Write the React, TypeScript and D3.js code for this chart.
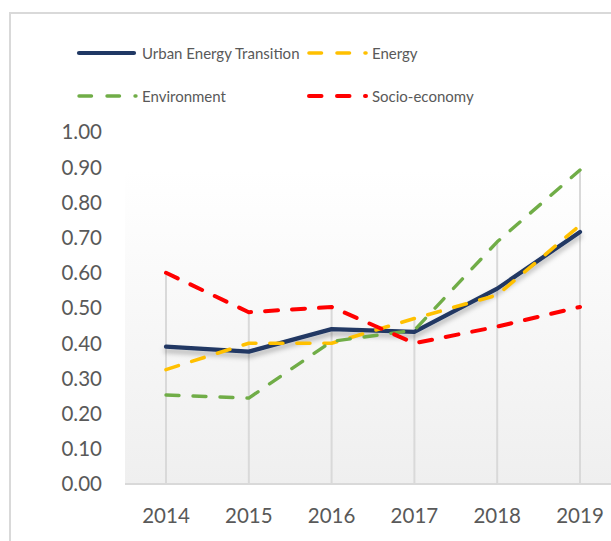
import React from "react";
import * as d3 from "d3";

const years = ["2014", "2015", "2016", "2017", "2018", "2019"];
const urban = [0.39, 0.376, 0.44, 0.432, 0.555, 0.716];
const energy = [0.325, 0.40, 0.40, 0.47, 0.537, 0.735];
const environment = [0.253, 0.244, 0.405, 0.437, 0.688, 0.892];
const socio = [0.60, 0.488, 0.503, 0.40, 0.447, 0.503];
const yTicks = [0, 0.1, 0.2, 0.3, 0.4, 0.5, 0.6, 0.7, 0.8, 0.9, 1.0];

const seriesNames = ["Urban Energy Transition", "Energy", "Environment", "Socio-economy"];
const seriesColors = ["#203864", "#ffc000", "#70ad47", "#ff0000"];

const FONT = "Lato, 'Open Sans', sans-serif";

export default function App() {
  const x = d3.scalePoint<string>().domain(years).range([166, 580]);
  const y = d3.scaleLinear().domain([0, 1]).range([484, 132]);
  const line = d3
    .line<number>()
    .x((_, i) => x(years[i]) as number)
    .y((d) => y(d));

  const all = [urban, energy, environment, socio];
  const maxes = years.map((_, i) => d3.max(all, (s) => s[i]) as number);

  const styles = [
    { w: 4.2, dash: undefined as string | undefined },
    { w: 3.6, dash: "13 14" },
    { w: 3.4, dash: "13 14" },
    { w: 4, dash: "13 14" },
  ];

  const legend = [
    { x: 77, y: 53 },
    { x: 307, y: 53 },
    { x: 77, y: 96 },
    { x: 307, y: 96 },
  ];

  return (
    <svg
      width={611}
      height={541}
      style={{ position: "absolute", left: 0, top: 0, background: "#fff" }}
    >
      <defs>
        <linearGradient id="bg" x1="0" y1="0" x2="0" y2="1">
          <stop offset="0" stopColor="#ffffff" />
          <stop offset="1" stopColor="#efefef" />
        </linearGradient>
        <filter id="shadow" x="-10%" y="-30%" width="120%" height="160%">
          <feDropShadow dx="0" dy="4" stdDeviation="2.5" floodColor="#000" floodOpacity="0.28" />
        </filter>
      </defs>
      <rect x={10} y={13} width={700} height={600} fill="#fff" stroke="#d9d9d9" strokeWidth={2} />

      {/* plot background */}
      <rect x={125} y={170} width={486} height={314} fill="url(#bg)" />
      <line x1={125} x2={611} y1={484} y2={484} stroke="#d9d9d9" strokeWidth={2} />

      {/* drop lines */}
      {years.map((yr, i) => (
        <line
          key={yr}
          x1={x(yr)}
          x2={x(yr)}
          y1={y(maxes[i])}
          y2={485}
          stroke="#d9d9d9"
          strokeWidth={2}
        />
      ))}

      {/* y axis labels */}
      {yTicks.map((t) => (
        <text
          key={t}
          x={102}
          y={y(t)}
          dy="0.36em"
          textAnchor="end"
          fontFamily={FONT}
          fontSize={20.5}
          fill="#595959"
        >
          {t.toFixed(2)}
        </text>
      ))}

      {/* x axis labels */}
      {years.map((yr) => (
        <text
          key={yr}
          x={x(yr)}
          y={523}
          textAnchor="middle"
          fontFamily={FONT}
          fontSize={20.5}
          fill="#595959"
        >
          {yr}
        </text>
      ))}

      {/* series */}
      {all.map((s, k) => (
        <path
          key={k}
          d={line(s) as string}
          fill="none"
          stroke={seriesColors[k]}
          strokeWidth={styles[k].w}
          strokeDasharray={styles[k].dash}
          strokeLinecap="round"
          strokeLinejoin="round"
          filter={k === 0 ? "url(#shadow)" : undefined}
        />
      ))}

      {/* legend */}
      {legend.map((p, k) => (
        <g key={k}>
          {k === 0 ? (
            <line x1={p.x + 2} x2={p.x + 57} y1={p.y} y2={p.y} stroke={seriesColors[k]} strokeWidth={4.2} strokeLinecap="round" />
          ) : (
            <line
              x1={p.x + 2}
              x2={p.x + 59}
              y1={p.y}
              y2={p.y}
              stroke={seriesColors[k]}
              strokeWidth={styles[k].w}
              strokeDasharray="12.5 15.5"
              strokeLinecap="round"
            />
          )}
          <text
            x={p.x + 65}
            y={p.y + 5.5}
            fontFamily={FONT}
            fontSize={15}
            fill="#595959"
          >
            {seriesNames[k]}
          </text>
        </g>
      ))}
    </svg>
  );
}
